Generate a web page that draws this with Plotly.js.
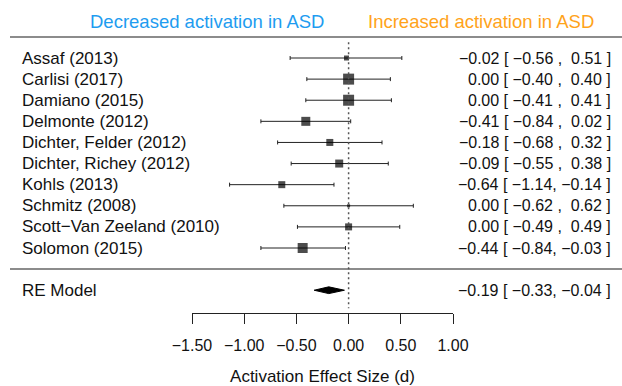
<!DOCTYPE html>
<html>
<head>
<meta charset="utf-8">
<script src="https://cdn.plot.ly/plotly-3.0.1.min.js"></script>
<style>html,body{margin:0;padding:0;background:#fff;}#chart{width:622px;height:386px;}</style>
</head>
<body>
<div id="chart"></div>
<script>
// ---- data ----
const studies = ["Assaf (2013)", "Carlisi (2017)", "Damiano (2015)", "Delmonte (2012)",
  "Dichter, Felder (2012)", "Dichter, Richey (2012)", "Kohls (2013)", "Schmitz (2008)",
  "Scott\u2212Van Zeeland (2010)", "Solomon (2015)"];
const effect = [-0.02, 0.00, 0.00, -0.41, -0.18, -0.09, -0.64, 0.00, 0.00, -0.44];
const ciLow  = [-0.56, -0.40, -0.41, -0.84, -0.68, -0.55, -1.14, -0.62, -0.49, -0.84];
const ciHigh = [0.51, 0.40, 0.41, 0.02, 0.32, 0.38, -0.14, 0.62, 0.49, -0.03];
const reLabel = "RE Model";
const reEffect = -0.19, reLow = -0.33, reHigh = -0.04;
const tickValues = [-1.5, -1.0, -0.5, 0.0, 0.5, 1.0];
const xTitle = "Activation Effect Size (d)";
const leftHeader = "Decreased activation in ASD";
const rightHeader = "Increased activation in ASD";

// ---- styles ----
const squareSize = [5, 11, 11, 9, 7, 8, 7, 3, 7, 10];
const FONT = "Liberation Sans, Arial, Helvetica, sans-serif";
const FS_LABEL = 17, FS_NUM = 16, FS_TICK = 16, FS_HEAD = 18.5;

const rows = studies.map((s, i) => studies.length - i); // 10..1
const reRow = -1;

function fmt(v) { return (v < 0 ? "\u2212" : "") + Math.abs(v).toFixed(2); }
function ciText(e, lo, hi) {
  return fmt(e) + " [ " + fmt(lo) + (hi < 0 ? ", " : " ,  ") + fmt(hi) + " ]";
}

const traces = [
  {
    type: "scatter", mode: "markers", x: effect, y: rows,
    marker: { symbol: "square", size: squareSize, color: "#000", line: { width: 0 } },
    error_x: {
      type: "data", symmetric: false,
      array: effect.map((e, i) => ciHigh[i] - e),
      arrayminus: effect.map((e, i) => e - ciLow[i]),
      color: "#222", thickness: 1, width: 2
    },
    hoverinfo: "skip", showlegend: false, cliponaxis: false
  },
  {
    type: "scatter", mode: "lines",
    x: [reLow, reEffect, reHigh, reEffect, reLow],
    y: [reRow, reRow + 0.16, reRow, reRow - 0.16, reRow],
    fill: "toself", fillcolor: "#000", line: { color: "#000", width: 1 },
    hoverinfo: "skip", showlegend: false
  }
];

const L = 192, R = 169, T = 29, B = 73;
const plotW = 622 - L - R;
const px2paperX = p => (p - L) / plotW;

const annotations = [];
studies.forEach((s, i) => {
  annotations.push({ xref: "paper", yref: "y", x: px2paperX(20), y: rows[i], text: s,
    xanchor: "left", yanchor: "middle", showarrow: false, font: { family: FONT, size: FS_LABEL, color: "#111" } });
  annotations.push({ xref: "paper", yref: "y", x: px2paperX(613), y: rows[i],
    text: ciText(effect[i], ciLow[i], ciHigh[i]),
    xanchor: "right", yanchor: "middle", showarrow: false, font: { family: FONT, size: FS_NUM, color: "#111" } });
});
annotations.push({ xref: "paper", yref: "y", x: px2paperX(20), y: reRow, text: reLabel,
  xanchor: "left", yanchor: "middle", showarrow: false, font: { family: FONT, size: FS_LABEL, color: "#111" } });
annotations.push({ xref: "paper", yref: "y", x: px2paperX(613), y: reRow,
  text: ciText(reEffect, reLow, reHigh),
  xanchor: "right", yanchor: "middle", showarrow: false, font: { family: FONT, size: FS_NUM, color: "#111" } });
annotations.push({ xref: "paper", yref: "paper", x: px2paperX(88), y: (313 - 21) / (386 - T - B),
  text: leftHeader, xanchor: "left", yanchor: "middle", showarrow: false,
  font: { family: FONT, size: FS_HEAD, color: "#1E9CF0" } });
annotations.push({ xref: "paper", yref: "paper", x: px2paperX(366), y: (313 - 21) / (386 - T - B),
  text: rightHeader, xanchor: "left", yanchor: "middle", showarrow: false,
  font: { family: FONT, size: FS_HEAD, color: "#FFA31A" } });

const shapes = [
  { type: "line", xref: "paper", yref: "y", x0: px2paperX(10), x1: px2paperX(622), y0: 11, y1: 11,
    line: { color: "#666", width: 1.5 } },
  { type: "line", xref: "paper", yref: "y", x0: px2paperX(10), x1: px2paperX(622), y0: 0, y1: 0,
    line: { color: "#666", width: 1.5 } },
  { type: "line", xref: "x", yref: "y", x0: 0, x1: 0, y0: 10.75, y1: -1.85,
    line: { color: "#555", width: 1.5, dash: "2px,3px" } }
];

const layout = {
  width: 622, height: 386,
  margin: { l: L, r: R, t: T, b: B, pad: 0 },
  paper_bgcolor: "#fff", plot_bgcolor: "#fff",
  showlegend: false,
  xaxis: {
    range: [-1.5, 1.0], showgrid: false, zeroline: false,
    showline: true, linecolor: "#222", linewidth: 1,
    ticks: "outside", ticklen: 10, tickcolor: "#222", tickwidth: 1,
    tickvals: tickValues, tickformat: ".2f",
    ticklabelstandoff: 8,
    tickfont: { family: FONT, size: FS_TICK, color: "#111" },
    title: { text: xTitle, font: { family: FONT, size: FS_LABEL, color: "#111" }, standoff: 17 },
    automargin: false, fixedrange: true
  },
  yaxis: {
    range: [-2.079, 11.374], visible: false, showgrid: false, zeroline: false, fixedrange: true
  },
  annotations: annotations,
  shapes: shapes
};

Plotly.newPlot("chart", traces, layout, { displayModeBar: false, staticPlot: true });
</script>
</body>
</html>
